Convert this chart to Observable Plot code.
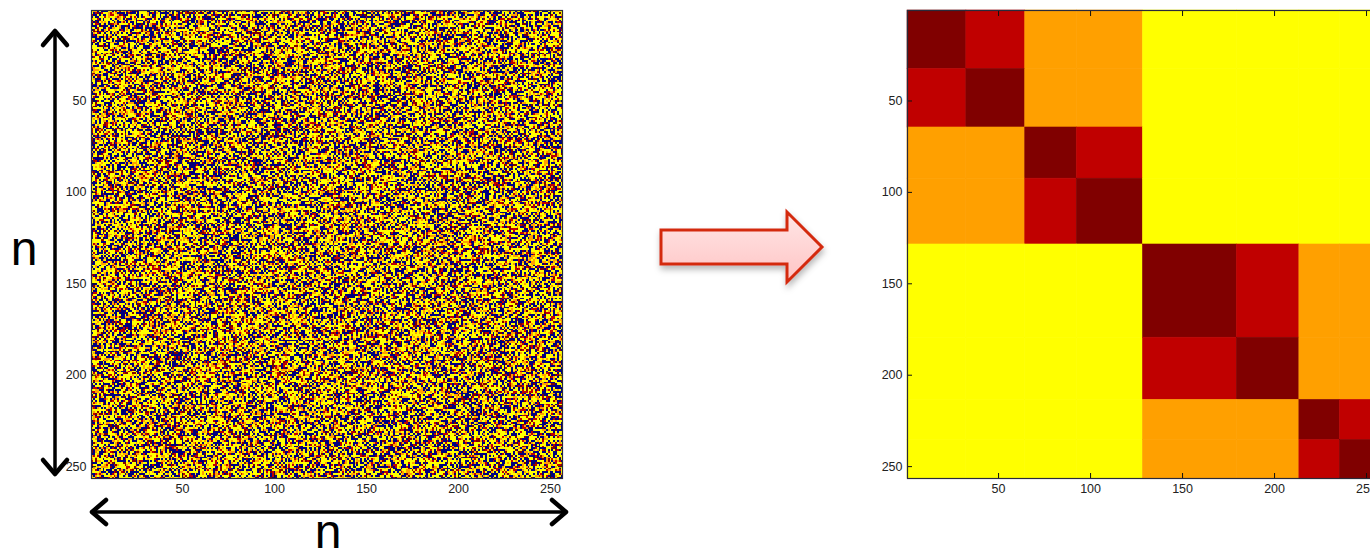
<!DOCTYPE html>
<html>
<head>
<meta charset="utf-8">
<script src="https://cdn.jsdelivr.net/npm/d3@7"></script>
<script src="https://cdn.jsdelivr.net/npm/@observablehq/plot@0.6"></script>
<style>
  html, body { margin: 0; padding: 0; background: #fff; }
  #page { position: relative; width: 1370px; height: 556px; overflow: hidden; background: #fff; }
  .panel { position: absolute; top: 0; width: 521px; }
  .panel svg { max-width: none !important; }
  #deco { position: absolute; left: 0; top: 0; pointer-events: none; }
</style>
</head>
<body>
<div id="page">
  <div id="raw" class="panel" style="left:51px"></div>
  <div id="sorted" class="panel" style="left:867px"></div>
  <svg id="deco" width="1370" height="556" xmlns="http://www.w3.org/2000/svg">
    <defs>
      <linearGradient id="arrowFill" x1="0" y1="0" x2="0" y2="1">
        <stop offset="0" stop-color="#ffe6e6"/>
        <stop offset="1" stop-color="#ffc4c4"/>
      </linearGradient>
      <filter id="soft" x="-20%" y="-30%" width="140%" height="170%">
        <feDropShadow dx="1" dy="4" stdDeviation="3" flood-color="#000" flood-opacity="0.28"/>
      </filter>
    </defs>
    <!-- vertical n arrow -->
    <g stroke="#000" fill="none" stroke-linecap="round" stroke-linejoin="round">
      <line x1="55" y1="32" x2="55" y2="473" stroke-width="3.5"/>
      <polyline points="43,45 55,31 67,45" stroke-width="4.5"/>
      <polyline points="43,460 55,474 67,460" stroke-width="4.5"/>
      <!-- horizontal n arrow -->
      <line x1="92" y1="512" x2="566" y2="512" stroke-width="3.5"/>
      <polyline points="106,500 92,512 106,524" stroke-width="4.5"/>
      <polyline points="552,500 566,512 552,524" stroke-width="4.5"/>
    </g>
    <text x="24" y="265" font-family="Liberation Sans, Arial, sans-serif" font-size="48" text-anchor="middle">n</text>
    <text x="328" y="548" font-family="Liberation Sans, Arial, sans-serif" font-size="48" text-anchor="middle">n</text>
    <!-- block arrow between the panels -->
    <path d="M661,230 L787,230 L787,212 L822,247 L787,282 L787,264 L661,264 Z"
          fill="url(#arrowFill)" stroke="#d42a10" stroke-width="3" stroke-linejoin="miter" filter="url(#soft)"/>
  </svg>
</div>
<script>
// Matrix size and axis ticks
const n = 256;
const tickValues = [50, 100, 150, 200, 250];

// Colour maps: raw matrix (5 levels) and reordered matrix (4 levels)
const rawColors = ["#00007f", "#800000", "#c00000", "#ffa000", "#ffff00"];
const sortedColors = ["#ffff00", "#ffa000", "#c00000", "#800000"];

// Share of cells at each level of the raw matrix
const rawShares = [0.32, 0.06, 0.09, 0.13, 0.40];

// Leaf clusters of the reordered matrix (sizes in rows), their pairs and halves
const clusterSizes = [32, 32, 28, 36, 51, 34, 22, 21];
const clusterPair = [0, 0, 1, 1, 2, 2, 3, 3];
const clusterHalf = [0, 0, 0, 0, 1, 1, 1, 1];

// Raw, unordered matrix: cell levels taken through a fixed integer scramble of the cell index
function scramble(k) {
  let h = Math.imul(k + 0x9e3779b9, 0x85ebca6b) >>> 0;
  h ^= h >>> 13;
  h = Math.imul(h, 0xc2b2ae35) >>> 0;
  h ^= h >>> 16;
  h = Math.imul(h, 0x27d4eb2f) >>> 0;
  h ^= h >>> 15;
  return (h >>> 0) / 4294967296;
}
const cumShares = d3.cumsum(rawShares);
const rawValues = Array.from({length: n * n}, (_, k) => {
  const u = scramble(k);
  const lvl = cumShares.findIndex((c) => u < c);
  return lvl < 0 ? rawShares.length - 1 : lvl;
});

// Reordered matrix: one rectangle per pair of leaf clusters
const starts = [0, ...d3.cumsum(clusterSizes)];
const blocks = [];
clusterSizes.forEach((_, a) => {
  clusterSizes.forEach((_, b) => {
    const level = a === b ? 3 : clusterPair[a] === clusterPair[b] ? 2 : clusterHalf[a] === clusterHalf[b] ? 1 : 0;
    blocks.push({r0: starts[a], r1: starts[a + 1], c0: starts[b], c1: starts[b + 1], level});
  });
});

const W = 471, H = 468;
const margins = {marginLeft: 40, marginRight: 10, marginTop: 10, marginBottom: 30};

function axes() {
  return [
    Plot.axisX(tickValues, {anchor: "bottom", tickSize: -5, tickPadding: 11, label: null, stroke: "#111"}),
    Plot.axisX(tickValues, {anchor: "top", tickSize: -5, tickFormat: () => "", label: null, stroke: "#111"}),
    Plot.axisY(tickValues, {anchor: "left", tickSize: -5, tickPadding: 10, label: null, stroke: "#111"}),
    Plot.axisY(tickValues, {anchor: "right", tickSize: -5, tickFormat: () => "", label: null, stroke: "#111"}),
    Plot.frame({stroke: "#2a2a3a", strokeWidth: 1.2})
  ];
}

const common = {
  width: W + margins.marginLeft + margins.marginRight,
  height: H + margins.marginTop + margins.marginBottom,
  ...margins,
  x: {domain: [0.5, n + 0.5], label: null},
  y: {domain: [0.5, n + 0.5], reverse: true, label: null},
  style: {fontFamily: "Liberation Sans, Arial, sans-serif", fontSize: "12.5px", color: "#222", background: "transparent", overflow: "visible", maxWidth: "none"}
};

const rawPlot = Plot.plot({
  ...common,
  color: {type: "ordinal", domain: d3.range(rawColors.length), range: rawColors},
  marks: [
    Plot.raster(rawValues, {
      width: n, height: n,
      x1: 0.5, x2: n + 0.5, y1: 0.5, y2: n + 0.5,
      fill: (d) => d,
      imageRendering: "pixelated"
    }),
    ...axes()
  ]
});
document.getElementById("raw").append(rawPlot);

const sortedPlot = Plot.plot({
  ...common,
  color: {type: "ordinal", domain: d3.range(sortedColors.length), range: sortedColors},
  marks: [
    Plot.rect(blocks, {
      x1: (d) => d.c0 + 0.5, x2: (d) => d.c1 + 0.5,
      y1: (d) => d.r0 + 0.5, y2: (d) => d.r1 + 0.5,
      fill: "level", stroke: "level", strokeWidth: 0.6, inset: 0
    }),
    ...axes()
  ]
});
document.getElementById("sorted").append(sortedPlot);
</script>
</body>
</html>
